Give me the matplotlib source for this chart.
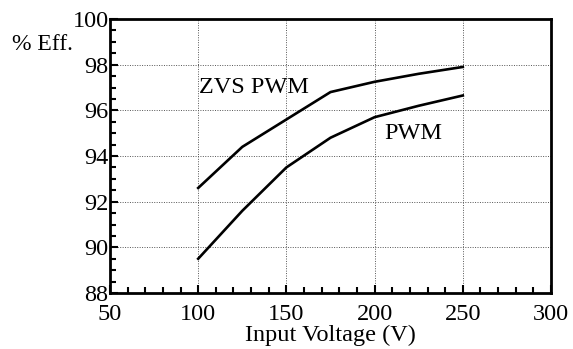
import matplotlib
matplotlib.use('Agg')
import matplotlib.pyplot as plt
from matplotlib.ticker import MultipleLocator

plt.rcParams['font.family'] = ['Liberation Serif', 'DejaVu Serif']

# Efficiency vs input voltage
voltage = [100, 125, 150, 175, 200, 225, 250]
eff_zvs = [92.6, 94.4, 95.6, 96.8, 97.25, 97.6, 97.9]
eff_pwm = [89.5, 91.6, 93.5, 94.8, 95.7, 96.2, 96.65]

fig = plt.figure(figsize=(5.73, 3.49), dpi=100)
ax = fig.add_axes([110 / 573, 1 - 293 / 349, 441 / 573, 274 / 349])

ax.plot(voltage, eff_zvs, color='black', lw=1.9)
ax.plot(voltage, eff_pwm, color='black', lw=1.9)

ax.text(100.5, 97.0, 'ZVS PWM', fontsize=17.5, va='center', ha='left')
ax.text(205.5, 95.0, 'PWM', fontsize=17.5, va='center', ha='left')

ax.set_xlim(50, 300)
ax.set_ylim(88, 100)
ax.xaxis.set_major_locator(MultipleLocator(50))
ax.xaxis.set_minor_locator(MultipleLocator(10))
ax.yaxis.set_major_locator(MultipleLocator(2))
ax.yaxis.set_minor_locator(MultipleLocator(0.5))
ax.tick_params(which='both', direction='in', labelsize=17.5, width=1.5)
ax.tick_params(which='major', length=6)
ax.tick_params(which='minor', length=4)
ax.tick_params(axis='y', pad=1)
ax.tick_params(axis='x', pad=8)
ax.grid(True, which='major', ls=(0, (1, 1.5)), lw=0.7, color='#555555')
for s in ax.spines.values():
    s.set_linewidth(2)

ax.set_xlabel('Input Voltage (V)', fontsize=17.5, labelpad=0)
fig.text(12 / 573, 1 - 44 / 349, '% Eff.', fontsize=17, va='center', ha='left')

fig.savefig('out.png', dpi=100, facecolor='white')
